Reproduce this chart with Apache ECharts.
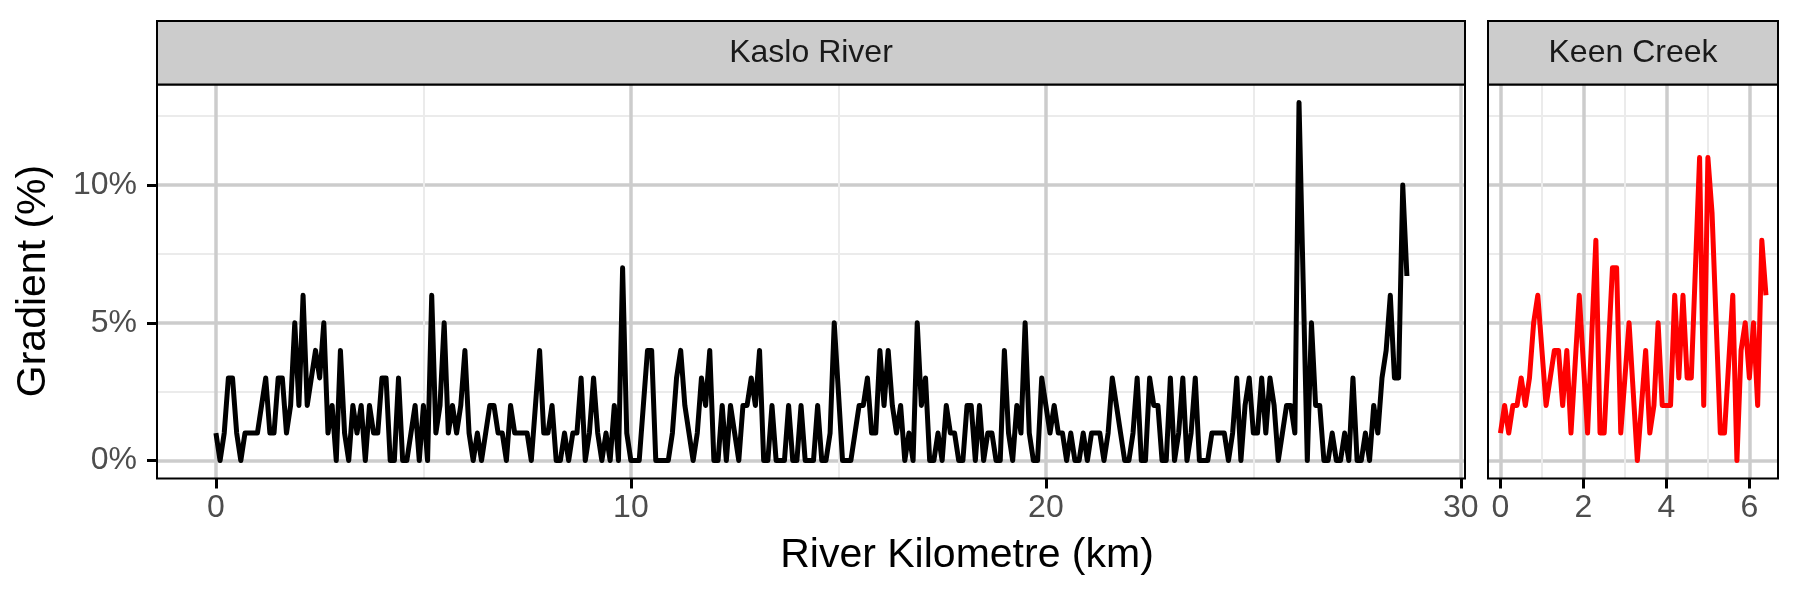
<!DOCTYPE html>
<html><head><meta charset="utf-8">
<script src="https://cdn.jsdelivr.net/npm/echarts@6/dist/echarts.min.js"></script>
<style>html,body{margin:0;padding:0;background:#fff}#c{width:1800px;height:600px}</style>
</head><body><div id="c"></div>
<script>
// ---- data ----
const panelNames = ['Kaslo River', 'Keen Creek'];
const xTitle = 'River Kilometre (km)';
const yTitle = 'Gradient (%)';

const kasloKm = [
0,0.1,0.2,0.3,0.4,0.5,0.6,0.7,0.8,0.9,
1,1.1,1.2,1.3,1.4,1.5,1.6,1.7,1.8,1.9,
2,2.1,2.2,2.3,2.4,2.5,2.6,2.7,2.8,2.9,
3,3.1,3.2,3.3,3.4,3.5,3.6,3.7,3.8,3.9,
4,4.1,4.2,4.3,4.4,4.5,4.6,4.7,4.8,4.9,
5,5.1,5.2,5.3,5.4,5.5,5.6,5.7,5.8,5.9,
6,6.1,6.2,6.3,6.4,6.5,6.6,6.7,6.8,6.9,
7,7.1,7.2,7.3,7.4,7.5,7.6,7.7,7.8,7.9,
8,8.1,8.2,8.3,8.4,8.5,8.6,8.7,8.8,8.9,
9,9.1,9.2,9.3,9.4,9.5,9.6,9.7,9.8,9.9,
10,10.1,10.2,10.3,10.4,10.5,10.6,10.7,10.8,10.9,
11,11.1,11.2,11.3,11.4,11.5,11.6,11.7,11.8,11.9,
12,12.1,12.2,12.3,12.4,12.5,12.6,12.7,12.8,12.9,
13,13.1,13.2,13.3,13.4,13.5,13.6,13.7,13.8,13.9,
14,14.1,14.2,14.3,14.4,14.5,14.6,14.7,14.8,14.9,
15,15.1,15.2,15.3,15.4,15.5,15.6,15.7,15.8,15.9,
16,16.1,16.2,16.3,16.4,16.5,16.6,16.7,16.8,16.9,
17,17.1,17.2,17.3,17.4,17.5,17.6,17.7,17.8,17.9,
18,18.1,18.2,18.3,18.4,18.5,18.6,18.7,18.8,18.9,
19,19.1,19.2,19.3,19.4,19.5,19.6,19.7,19.8,19.9,
20,20.1,20.2,20.3,20.4,20.5,20.6,20.7,20.8,20.9,
21,21.1,21.2,21.3,21.4,21.5,21.6,21.7,21.8,21.9,
22,22.1,22.2,22.3,22.4,22.5,22.6,22.7,22.8,22.9,
23,23.1,23.2,23.3,23.4,23.5,23.6,23.7,23.8,23.9,
24,24.1,24.2,24.3,24.4,24.5,24.6,24.7,24.8,24.9,
25,25.1,25.2,25.3,25.4,25.5,25.6,25.7,25.8,25.9,
26,26.1,26.2,26.3,26.4,26.5,26.6,26.7,26.8,26.9,
27,27.1,27.2,27.3,27.4,27.5,27.6,27.7,27.8,27.9,
28,28.1,28.2,28.3,28.4,28.5,28.6,28.7];

const kasloGradient = [
1,0,1,3,3,1,0,1,1,1,
1,2,3,1,1,3,3,1,2,5,
2,6,2,3,4,3,5,1,2,0,
4,1,0,2,1,2,0,2,1,1,
3,3,0,0,3,0,0,1,2,0,
2,0,6,1,2,5,1,2,1,2,
4,1,0,1,0,1,2,2,1,1,
0,2,1,1,1,1,0,2,4,1,
1,2,0,0,1,0,1,1,3,0,
1,3,1,0,1,0,2,0,7,1,
0,0,0,2,4,4,0,0,0,0,
1,3,4,2,1,0,1,3,2,4,
0,0,2,0,2,1,0,2,2,3,
2,4,0,0,2,0,0,0,2,0,
0,2,0,0,0,2,0,0,1,5,
2.5,0,0,0,1,2,2,3,1,1,
4,2,4,2,1,2,0,1,0,5,
2,3,0,0,1,0,2,1,1,0,
0,2,2,0,2,0,1,1,0,0,
4,1,0,2,1,5,1,0,0,3,
2,1,2,1,1,0,1,0,0,1,
0,1,1,1,0,1,3,2,1,0,
0,1,3,0,0,3,2,2,0,0,
3,0,1,3,0,1,3,0,0,0,
1,1,1,1,0,1,3,0,2,3,
1,1,3,1,3,2,0,1,2,2,
1,13,6.5,0,5,2,2,0,0,1,
0,0,1,0,3,0,0,1,0,2,
1,3,4,6,3,3,10,6.7];

const keenKm = [
0,0.1,0.2,0.3,0.4,0.5,0.6,0.7,0.8,0.9,
1,1.1,1.2,1.3,1.4,1.5,1.6,1.7,1.8,1.9,
2,2.1,2.2,2.3,2.4,2.5,2.6,2.7,2.8,2.9,
3,3.1,3.2,3.3,3.4,3.5,3.6,3.7,3.8,3.9,
4,4.1,4.2,4.3,4.4,4.5,4.6,4.7,4.8,4.9,
5,5.1,5.2,5.3,5.4,5.5,5.6,5.7,5.8,5.9,
6,6.1,6.2,6.3,6.4];

const keenGradient = [
1,2,1,2,2,3,2,3,5,6,
4,2,3,4,4,2,4,1,3.5,6,
3.5,1,4.5,8,1,1,4,7,7,1,
3,5,2.5,0,2,4,1,2,5,2,
2,2,6,3,6,3,3,7,11,2,
11,9,5,1,1,3.5,6,0,4,5,
3,5,2,8,6];

const kasloXTicks = [0, 10, 20, 30];
const kasloXMinor = [5, 15, 25];
const keenXTicks = [0, 2, 4, 6];
const keenXMinor = [1, 3, 5];
const yTicks = [0, 5, 10];
const yMinor = [2.5, 7.5, 12.5];

// ---- layout / style ----
const FONT = '"Liberation Sans", Arial, Helvetica, sans-serif';
const panels = [
  {left: 157, width: 1308, xmin: -1.42, xmax: 30.1},
  {left: 1488, width: 290, xmin: -0.3, xmax: 6.69}
];
const gridTop = 84.5, gridH = 394;
const yMin = -0.65, yMax = 13.65;
const majorLine = {color: '#cccccc', width: 3.5};
const minorLine = {color: '#ebebeb', width: 2};

const pairs = (xs, ys) => xs.map((x, i) => [x, ys[i]]);

function xAxesFor(gi, p, major, minor) {
  return [
    {gridIndex: gi, type: 'value', min: p.xmin, max: p.xmax, position: 'bottom',
     axisLine: {show: false, onZero: false},
     axisTick: {show: true, inside: false, length: 10, lineStyle: {color: '#000', width: 3}, customValues: major},
     axisLabel: {show: true, customValues: major, fontSize: 32, color: '#4d4d4d', fontFamily: FONT, margin: 14},
     splitLine: {show: true, lineStyle: majorLine}, minorSplitLine: {show: false}},
    {gridIndex: gi, type: 'value', min: p.xmin, max: p.xmax, position: 'top',
     axisLine: {show: false, onZero: false},
     axisTick: {show: false, customValues: minor},
     axisLabel: {show: false, customValues: minor},
     splitLine: {show: true, lineStyle: minorLine}}
  ];
}
function yAxesFor(gi, showLabels) {
  return [
    {gridIndex: gi, type: 'value', min: yMin, max: yMax, position: 'left',
     axisLine: {show: false, onZero: false},
     axisTick: {show: showLabels, inside: false, length: 10, lineStyle: {color: '#000', width: 3}, customValues: yTicks},
     axisLabel: {show: showLabels, customValues: yTicks, formatter: v => v + '%', fontSize: 32, color: '#4d4d4d', fontFamily: FONT, margin: 20},
     splitLine: {show: true, lineStyle: majorLine}},
    {gridIndex: gi, type: 'value', min: yMin, max: yMax, position: 'right',
     axisLine: {show: false, onZero: false},
     axisTick: {show: false, customValues: yMinor},
     axisLabel: {show: false, customValues: yMinor},
     splitLine: {show: true, lineStyle: minorLine}}
  ];
}

const graphics = [];
panels.forEach((p, i) => {
  graphics.push({type: 'rect', z: 100, silent: true,
    shape: {x: p.left, y: gridTop, width: p.width, height: gridH},
    style: {fill: null, stroke: '#000', lineWidth: 2}});
  graphics.push({type: 'rect', z: 100, silent: true,
    shape: {x: p.left, y: 21, width: p.width, height: gridTop - 21},
    style: {fill: '#cccccc', stroke: '#000', lineWidth: 2}});
  graphics.push({type: 'text', z: 101, silent: true,
    x: p.left + p.width / 2, y: 53,
    style: {text: panelNames[i], font: '32px ' + FONT, fill: '#1a1a1a', align: 'center', verticalAlign: 'middle'}});
});
graphics.push({type: 'text', z: 101, silent: true, x: 967, y: 556,
  style: {text: xTitle, font: '41px ' + FONT, fill: '#000', align: 'center', verticalAlign: 'middle'}});
graphics.push({type: 'text', z: 101, silent: true, x: 34, y: 281, rotation: Math.PI / 2,
  style: {text: yTitle, font: '41px ' + FONT, fill: '#000', align: 'center', verticalAlign: 'middle'}});

const chart = echarts.init(document.getElementById('c'), null, {renderer: 'canvas'});
chart.setOption({
  animation: false,
  backgroundColor: '#ffffff',
  textStyle: {fontFamily: FONT},
  grid: panels.map(p => ({left: p.left, top: gridTop, width: p.width, height: gridH,
    show: true, backgroundColor: '#ffffff', borderWidth: 0, containLabel: false, outerBoundsMode: 'none'})),
  xAxis: [...xAxesFor(0, panels[0], kasloXTicks, kasloXMinor), ...xAxesFor(1, panels[1], keenXTicks, keenXMinor)],
  yAxis: [...yAxesFor(0, true), ...yAxesFor(1, false)],
  series: [
    {type: 'line', name: panelNames[0], xAxisIndex: 0, yAxisIndex: 0, data: pairs(kasloKm, kasloGradient),
     showSymbol: false, symbol: 'none', lineStyle: {color: '#000000', width: 5, join: 'round', cap: 'butt'},
     itemStyle: {color: '#000000'}, z: 5},
    {type: 'line', name: panelNames[1], xAxisIndex: 2, yAxisIndex: 2, data: pairs(keenKm, keenGradient),
     showSymbol: false, symbol: 'none', lineStyle: {color: '#ff0000', width: 5, join: 'round', cap: 'butt'},
     itemStyle: {color: '#ff0000'}, z: 5}
  ],
  graphic: graphics
});
</script>
</body></html>
